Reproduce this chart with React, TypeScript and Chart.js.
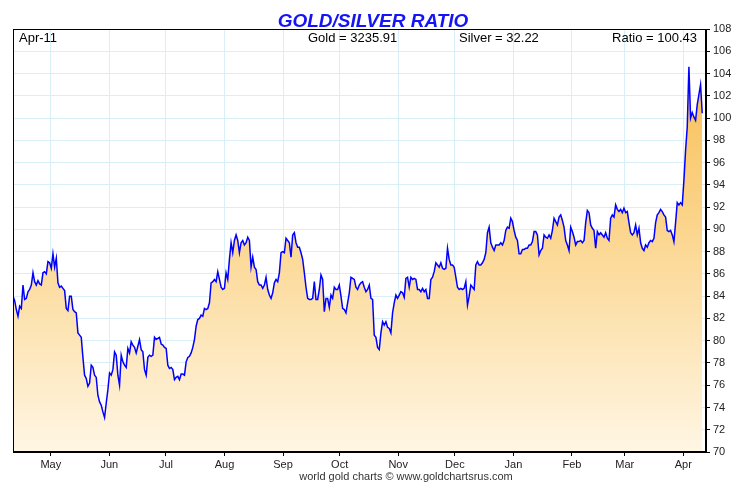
import { useEffect, useRef } from 'react';
import { Chart, registerables } from 'chart.js';

Chart.register(...registerables);

// period shown on the chart
const firstDate = '2024-04-11';
const lastDate = '2025-04-11';
const axisEndDay = 367;

const monthStarts = [
  '2024-05-01', '2024-06-01', '2024-07-01', '2024-08-01', '2024-09-01', '2024-10-01',
  '2024-11-01', '2024-12-01', '2025-01-01', '2025-02-01', '2025-03-01', '2025-04-01',
];
const monthLabels = ['May', 'Jun', 'Jul', 'Aug', 'Sep', 'Oct', 'Nov', 'Dec', 'Jan', 'Feb', 'Mar', 'Apr'];

const yMin = 70;
const yMax = 108;
const yStep = 2;

const headerDate = 'Apr-11';
const goldPrice = 3235.91;
const silverPrice = 32.22;
const lastRatio = 100.43;

// gold/silver ratio, sessions in order
const ratioValues = [
  84.0, 83.6, 82.8, 82.2, 83.1, 82.9, 85.0, 83.7, 83.8, 84.4, 84.6, 85.0, 86.1, 85.3, 85.0, 85.4,
  85.1, 85.0, 86.1, 86.2, 86.0, 87.1, 87.0, 86.5, 87.8, 86.6, 87.4, 85.2, 84.8, 84.9, 84.7, 84.5,
  82.9, 82.7, 84.0, 84.0, 82.8, 82.6, 82.5, 80.7, 80.5, 80.3, 78.5, 76.9, 76.6, 75.9, 76.2, 77.8,
  77.6, 76.9, 76.7, 75.1, 74.5, 74.2, 73.6, 73.1, 74.4, 75.6, 77.1, 76.9, 77.4, 79.0, 78.7, 76.9,
  76.0, 78.7, 78.1, 77.8, 77.6, 79.3, 78.9, 79.9, 79.6, 79.4, 78.9, 79.5, 80.1, 79.2, 79.0, 77.4,
  76.9, 78.5, 78.7, 78.6, 78.7, 80.3, 80.1, 80.2, 80.3, 79.7, 79.6, 79.4, 79.3, 77.8, 77.5, 77.6,
  77.4, 76.5, 76.7, 76.8, 76.5, 77.0, 77.0, 76.9, 78.1, 78.5,
  78.6, 78.9, 79.4, 80.1, 81.3, 81.9, 82.0, 82.3, 82.2, 82.9, 82.8, 82.9, 83.4, 85.2, 85.3, 85.5,
  85.3, 86.2, 85.5, 84.8, 84.6, 84.7, 86.1, 85.5, 87.3, 88.8, 87.9, 89.0, 89.5, 89.0, 87.9, 88.8,
  89.0, 88.6, 88.8, 89.3, 89.0, 86.6, 87.5, 86.6, 86.4, 85.3, 85.0, 85.0, 84.7, 85.0, 85.7, 84.6,
  84.1, 83.8, 84.3, 85.2, 85.5, 85.3, 86.1, 87.9, 88.0, 87.9, 89.2, 89.0, 88.8, 87.5, 89.5, 89.7,
  88.8, 88.4, 88.4, 87.9, 87.3, 86.1, 84.8, 83.8, 83.7, 83.7, 83.8, 85.3, 83.7, 83.7, 84.6, 85.9,
  85.5, 82.6, 83.8, 83.8, 83.0, 84.1, 83.8, 84.8, 84.6, 84.6, 85.0, 84.0, 82.9, 82.8, 82.5, 83.4,
  84.3,
  85.7, 85.6, 85.5, 84.8, 84.6, 85.0, 85.2, 85.3, 84.8, 84.4, 84.6, 85.0, 83.8, 83.7, 80.5, 80.3,
  79.4, 79.2, 80.7, 81.7, 81.4, 81.7, 81.2, 81.1, 80.7, 82.5, 83.4, 84.1, 83.8, 84.1, 84.4, 84.3,
  83.9, 85.6, 85.7, 84.8, 85.7, 85.5, 85.6, 85.5, 84.6, 84.6, 84.4, 84.7, 84.4, 84.6, 83.8, 83.8,
  85.5, 85.7, 86.2, 87.0, 86.8, 86.6, 87.0, 86.5, 86.4, 86.5, 88.3, 87.3, 86.8, 86.8, 86.6, 85.7,
  84.8, 84.6, 84.7, 84.6, 84.7, 85.3, 83.2, 84.0, 85.0, 84.8, 84.6, 86.8, 87.1, 86.8, 86.8, 87.0,
  87.3, 87.9, 89.7, 90.2, 88.8, 88.4, 88.1, 88.6, 88.6, 88.6, 88.8, 88.6, 89.0, 89.9, 90.2, 90.1,
  91.0, 90.7, 89.9, 89.3, 89.0, 87.8, 87.8, 88.2, 88.2, 88.3, 88.3,
  88.6, 88.6, 88.9, 89.8, 89.8, 89.5, 87.7, 88.1, 88.3, 89.5, 89.3, 89.2, 89.5, 89.2, 89.9, 91.0,
  90.7, 90.4, 91.1, 91.3, 90.8, 90.2, 89.0, 88.6, 88.1, 90.2, 89.8, 89.3, 88.6, 88.9, 88.9, 89.0,
  88.8, 89.0, 90.6, 91.7, 91.5, 90.4, 90.1, 89.9, 88.3, 89.8, 89.5, 89.7, 89.5, 89.3, 89.7, 89.2,
  89.0, 91.0, 91.3, 91.1, 92.2, 91.8, 91.6, 91.8, 91.5, 91.9, 91.5, 91.6, 90.6, 89.7, 89.5, 89.7,
  90.4, 89.5, 90.1, 88.8, 88.3, 88.1, 88.6, 88.4, 88.8, 89.0, 88.9, 89.2, 90.6, 91.3, 91.5, 91.8,
  91.6, 91.3, 91.1, 89.9, 89.8, 89.9, 89.5, 88.9, 90.6, 92.4, 92.2, 92.4, 92.2, 94.4, 97.1, 99.2,
  104.6, 100.0, 100.5, 100.1, 99.8, 101.2, 102.1, 103.0, 100.43,
];

const dayMs = 24 * 3600 * 1000;
const dayOffset = (d: string) => Math.round((Date.parse(d) - Date.parse(firstDate)) / dayMs);

const font = '"Liberation Sans", Arial, sans-serif';

const textPlugin = {
  id: 'goldText',
  afterDraw(chart: Chart) {
    const { ctx, chartArea } = chart;
    const { left, right, top, bottom } = chartArea;
    ctx.save();
    ctx.strokeStyle = '#000';
    ctx.lineWidth = 1;
    ctx.strokeRect(Math.round(left) + 0.5, Math.round(top) + 0.5, Math.round(right - left) - 1, Math.round(bottom - top) - 1);

    ctx.fillStyle = '#1414f5';
    ctx.font = `italic bold 19px ${font}`;
    ctx.textAlign = 'center';
    ctx.textBaseline = 'alphabetic';
    ctx.fillText('GOLD/SILVER RATIO', 373, 27);

    ctx.fillStyle = '#000';
    ctx.font = `13px ${font}`;
    ctx.textAlign = 'left';
    ctx.fillText(headerDate, 19, 42);
    ctx.fillText(`Gold = ${goldPrice.toFixed(2)}`, 308, 42);
    ctx.fillText(`Silver = ${silverPrice.toFixed(2)}`, 459, 42);
    ctx.textAlign = 'right';
    ctx.fillText(`Ratio = ${lastRatio.toFixed(2)}`, 697, 42);

    ctx.fillStyle = '#333';
    ctx.font = `11px ${font}`;
    ctx.textAlign = 'center';
    ctx.fillText('world gold charts \u00a9 www.goldchartsrus.com', 406, 480);
    ctx.restore();
  },
};

const App = () => {
  const canvasRef = useRef<HTMLCanvasElement | null>(null);
  const chartRef = useRef<Chart | null>(null);

  useEffect(() => {
    if (!canvasRef.current) return;
    const ctx = canvasRef.current.getContext('2d');
    if (!ctx) return;
    if (chartRef.current) chartRef.current.destroy();

    const lastDay = dayOffset(lastDate);
    const n = ratioValues.length;
    const points = ratioValues.map((v, i) => ({ x: (i * lastDay) / (n - 1), y: v }));
    const tickDays = monthStarts.map(dayOffset);

    chartRef.current = new Chart(ctx, {
      type: 'line',
      data: {
        datasets: [
          {
            label: 'Ratio',
            data: points,
            borderColor: '#0000ff',
            borderWidth: 1.5,
            pointRadius: 0,
            tension: 0,
            fill: 'start',
            backgroundColor: (c: any) => {
              const area = c.chart.chartArea;
              if (!area) return '#fbd48a';
              const g = c.chart.ctx.createLinearGradient(0, area.top, 0, area.bottom);
              g.addColorStop(0, '#f7bb4c');
              g.addColorStop(0.45, '#fbd48a');
              g.addColorStop(1, '#fff6e4');
              return g;
            },
          },
        ],
      },
      options: {
        responsive: true,
        maintainAspectRatio: false,
        animation: false,
        layout: { padding: { left: 13, top: 29, right: 0, bottom: 0 } },
        plugins: {
          legend: { display: false },
          tooltip: { enabled: false },
          title: { display: false },
        },
        scales: {
          x: {
            type: 'linear',
            min: 0,
            max: axisEndDay,
            afterBuildTicks: (scale: any) => {
              scale.ticks = tickDays.map((d) => ({ value: d }));
            },
            afterFit: (scale: any) => {
              scale.height = 36;
            },
            ticks: {
              autoSkip: false,
              maxRotation: 0,
              padding: 2,
              color: '#222',
              font: { family: font, size: 11 },
              callback: (_v: any, i: number) => monthLabels[i],
            },
            grid: { color: '#d9eff7', tickColor: '#000', tickLength: 4 },
            border: { display: true, color: '#000' },
          },
          y: {
            position: 'right',
            min: yMin,
            max: yMax,
            afterFit: (scale: any) => {
              scale.width = 31;
            },
            ticks: {
              stepSize: yStep,
              padding: 3,
              color: '#222',
              font: { family: font, size: 11 },
            },
            grid: { color: '#d9eff7', tickColor: '#000', tickLength: 4 },
            border: { display: true, color: '#000' },
          },
        },
      },
      plugins: [textPlugin],
    });

    return () => {
      chartRef.current?.destroy();
      chartRef.current = null;
    };
  }, []);

  return (
    <div style={{ position: 'fixed', left: 0, top: 0, width: 737, height: 488, background: '#fff' }}>
      <canvas ref={canvasRef} />
    </div>
  );
};

export default App;
